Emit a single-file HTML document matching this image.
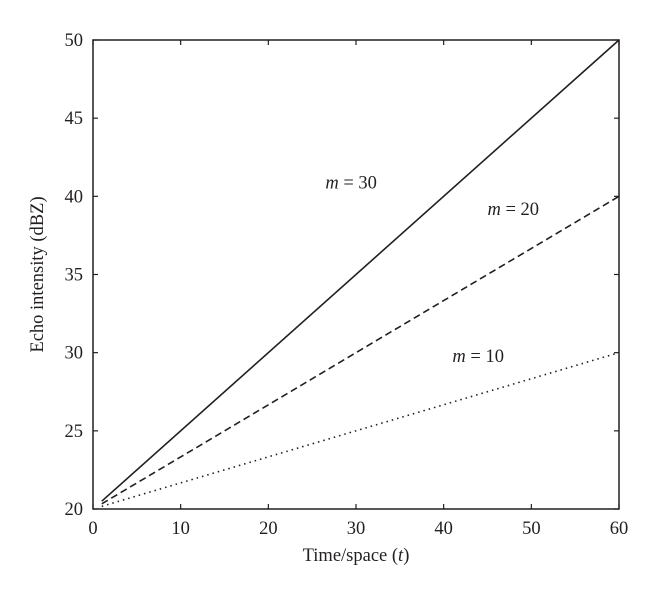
<!DOCTYPE html>
<html><head><meta charset="utf-8"><style>
body{margin:0;background:#fff}
svg{display:block;font-family:"Liberation Serif",serif}
</style></head><body>
<svg id="chart" width="660" height="600" viewBox="0 0 660 600" xmlns="http://www.w3.org/2000/svg">
<g id="plot"></g>
</svg>
<script>
const xTicks=[0,10,20,30,40,50,60];
const yTicks=[20,25,30,35,40,45,50];
const tValues=[1,60];
const m30=[20.5,50];
const m20=[20.33,40];
const m10=[20.17,30];
const seriesNames=["m = 30","m = 20","m = 10"];
const labelPos=[[26.5,40.5],[45,38.8],[41,29.4]];

const X0=93,X1=619,Y0=509,Y1=40;
const xs=v=>X0+(v-0)/(60-0)*(X1-X0);
const ys=v=>Y0-(v-20)/(50-20)*(Y0-Y1);
const NS="http://www.w3.org/2000/svg";
const g=document.getElementById('plot');
function mk(t,a){const e=document.createElementNS(NS,t);for(const k in a)e.setAttribute(k,a[k]);g.appendChild(e);return e;}

const box=mk('rect',{x:X0,y:Y1,width:X1-X0,height:Y0-Y1,fill:'none',stroke:'#231f20','stroke-width':1.5});



xTicks.forEach(v=>{
  const x=xs(v);
  const t1=mk('line',{x1:x,x2:x,y1:Y0,y2:Y0-5,stroke:'#231f20','stroke-width':1.2});
  
  
  const t2=mk('line',{x1:x,x2:x,y1:Y1,y2:Y1+5,stroke:'#231f20','stroke-width':1.2});
  
  
  const l=mk('text',{x:x,y:Y0+25,'text-anchor':'middle','font-size':18.5,fill:'#231f20'});
  l.textContent=v;
  
  
});
yTicks.forEach(v=>{
  const y=ys(v);
  const t1=mk('line',{x1:X0,x2:X0+5,y1:y,y2:y,stroke:'#231f20','stroke-width':1.2});
  
  
  const t2=mk('line',{x1:X1,x2:X1-5,y1:y,y2:y,stroke:'#231f20','stroke-width':1.2});
  
  
  const l=mk('text',{x:X0-10,y:y+6,'text-anchor':'end','font-size':18.5,fill:'#231f20'});
  l.textContent=v;
  
  
});

const styles=[{d:'none',w:1.6},{d:'7 4',w:1.6},{d:'1.5 4',w:1.6}];
[m30,m20,m10].forEach((s,i)=>{
  const pts=tValues.map((t,j)=>xs(t)+','+ys(s[j])).join(' ');
  const p=mk('polyline',{points:pts,fill:'none',stroke:'#231f20','stroke-width':styles[i].w,'stroke-dasharray':styles[i].d});
  
  
  const lp=labelPos[i];
  const tx=mk('text',{x:xs(lp[0]),y:ys(lp[1]),'font-size':18.5,fill:'#231f20'});
  tx.innerHTML='<tspan font-style="italic">m</tspan> = '+seriesNames[i].split('= ')[1];
  
  
});

const xt=mk('text',{x:(X0+X1)/2,y:561,'text-anchor':'middle','font-size':18.5,fill:'#231f20'});
xt.innerHTML='Time/space (<tspan font-style="italic">t</tspan>)';


const yt=mk('text',{x:0,y:0,'text-anchor':'middle','font-size':18.5,fill:'#231f20',transform:'translate(43,'+((Y0+Y1)/2)+') rotate(-90)'});
yt.textContent='Echo intensity (dBZ)';


</script>
</body></html>
